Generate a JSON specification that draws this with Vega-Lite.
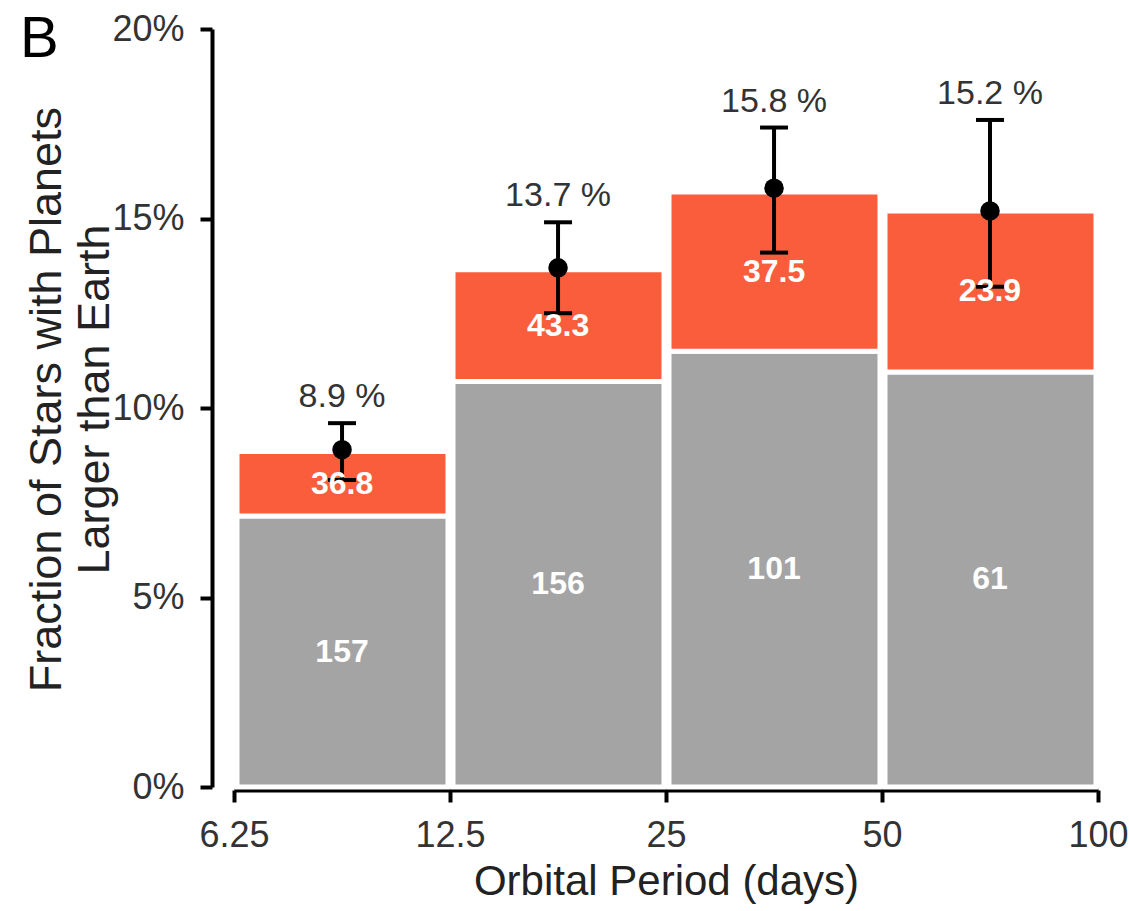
{
  "$schema": "https://vega.github.io/schema/vega-lite/v6.json",
  "width": 864,
  "height": 758,
  "autosize": {"type": "none"},
  "padding": {"left": 234, "top": 29, "right": 31, "bottom": 124},
  "background": "white",
  "title": {"text": "B", "anchor": "start", "frame": "bounds", "fontSize": 58, "fontWeight": "normal", "color": "black", "dy": 58, "dx": -5, "offset": 0},
  "datasets": {
    "bars": [
      {"lo": 6.25, "hi": 12.5, "mid": 8.84, "seg": "Detected", "v": 7.15, "n": "157"},
      {"lo": 6.25, "hi": 12.5, "mid": 8.84, "seg": "Extrapolated", "v": 1.7, "n": "36.8"},
      {"lo": 12.5, "hi": 25, "mid": 17.68, "seg": "Detected", "v": 10.7, "n": "156"},
      {"lo": 12.5, "hi": 25, "mid": 17.68, "seg": "Extrapolated", "v": 2.95, "n": "43.3"},
      {"lo": 25, "hi": 50, "mid": 35.36, "seg": "Detected", "v": 11.5, "n": "101"},
      {"lo": 25, "hi": 50, "mid": 35.36, "seg": "Extrapolated", "v": 4.2, "n": "37.5"},
      {"lo": 50, "hi": 100, "mid": 70.71, "seg": "Detected", "v": 10.95, "n": "61"},
      {"lo": 50, "hi": 100, "mid": 70.71, "seg": "Extrapolated", "v": 4.25, "n": "23.9"}
    ],
    "errs": [
      {"mid": 8.84, "f": 8.9, "low": 8.1, "high": 9.6, "lab": "8.9 %"},
      {"mid": 17.68, "f": 13.7, "low": 12.5, "high": 14.9, "lab": "13.7 %"},
      {"mid": 35.36, "f": 15.8, "low": 14.1, "high": 17.4, "lab": "15.8 %"},
      {"mid": 70.71, "f": 15.2, "low": 13.2, "high": 17.6, "lab": "15.2 %"}
    ]
  },
  "layer": [
    {
      "data": {"name": "bars"},
      "mark": {"type": "bar", "orient": "vertical", "stroke": "white", "strokeWidth": 5, "xOffset": 3, "x2Offset": -2},
      "encoding": {
        "x": {"field": "lo", "type": "quantitative",
              "scale": {"type": "log", "domain": [6.25, 100], "nice": false, "padding": 0},
              "axis": {"values": [6.25, 12.5, 25, 50, 100], "format": "~g", "title": "Orbital Period (days)", "offset": 3}},
        "x2": {"field": "hi"},
        "y": {"field": "v", "type": "quantitative", "stack": "zero",
              "scale": {"domain": [0, 20], "nice": false, "padding": 0},
              "axis": {"values": [0, 5, 10, 15, 20], "labelExpr": "datum.value + '%'", "title": ["Fraction of Stars with Planets", "Larger than Earth"], "offset": 22, "titlePadding": -6, "titleY": 370}},
        "color": {"field": "seg", "type": "nominal", "scale": {"domain": ["Detected", "Extrapolated"], "range": ["#a4a4a4", "#fa5d3c"]}, "legend": null},
        "order": {"field": "seg", "sort": "ascending"}
      }
    },
    {
      "data": {"name": "errs"},
      "mark": {"type": "rule", "color": "black", "strokeWidth": 4},
      "encoding": {
        "x": {"field": "mid", "type": "quantitative"},
        "y": {"field": "low", "type": "quantitative"},
        "y2": {"field": "high"}
      }
    },
    {
      "data": {"name": "errs"},
      "mark": {"type": "tick", "orient": "horizontal", "color": "black", "size": 28, "thickness": 4, "opacity": 1},
      "encoding": {
        "x": {"field": "mid", "type": "quantitative"},
        "y": {"field": "low", "type": "quantitative"}
      }
    },
    {
      "data": {"name": "errs"},
      "mark": {"type": "tick", "orient": "horizontal", "color": "black", "size": 28, "thickness": 4, "opacity": 1},
      "encoding": {
        "x": {"field": "mid", "type": "quantitative"},
        "y": {"field": "high", "type": "quantitative"}
      }
    },
    {
      "data": {"name": "errs"},
      "mark": {"type": "circle", "color": "black", "size": 380, "opacity": 1},
      "encoding": {
        "x": {"field": "mid", "type": "quantitative"},
        "y": {"field": "f", "type": "quantitative"}
      }
    },
    {
      "data": {"name": "bars"},
      "mark": {"type": "text", "color": "white", "fontSize": 32, "fontWeight": "bold", "baseline": "middle", "align": "center"},
      "encoding": {
        "x": {"field": "mid", "type": "quantitative"},
        "y": {"field": "v", "type": "quantitative", "stack": "zero", "bandPosition": 0.5},
        "detail": {"field": "seg"},
        "order": {"field": "seg", "sort": "ascending"},
        "text": {"field": "n"}
      }
    },
    {
      "data": {"name": "errs"},
      "mark": {"type": "text", "color": "#333333", "fontSize": 34, "baseline": "middle", "align": "center", "dy": -26},
      "encoding": {
        "x": {"field": "mid", "type": "quantitative"},
        "y": {"field": "high", "type": "quantitative"},
        "text": {"field": "lab"}
      }
    }
  ],
  "config": {
    "font": "Liberation Sans",
    "view": {"stroke": null},
    "axis": {
      "grid": false,
      "domainColor": "black",
      "domainWidth": 4,
      "tickColor": "black",
      "tickWidth": 4,
      "tickSize": 12,
      "labelFontSize": 36,
      "labelColor": "#333333",
      "labelPadding": 16,
      "titleFontSize": 45,
      "titleFontWeight": "normal",
      "titleColor": "#222222",
      "titleLineHeight": 48
    },
    "axisX": {"titlePadding": 8, "labelFlush": false, "titleFontSize": 42}
  }
}
